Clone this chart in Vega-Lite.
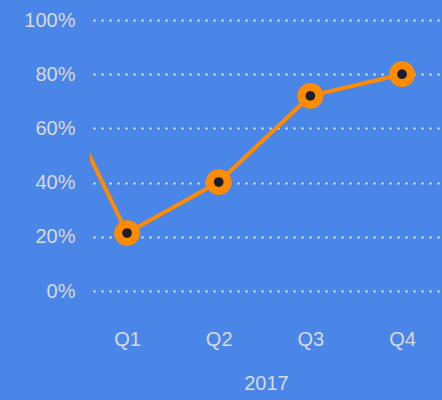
{
  "$schema": "https://vega.github.io/schema/vega-lite/v6.json",
  "width": 352,
  "height": 271,
  "autosize": "none",
  "padding": {"left": 90, "top": 20, "right": 0, "bottom": 109},
  "background": "#4A86E8",
  "config": {
    "view": {"stroke": null},
    "font": "Liberation Sans"
  },
  "data": {
    "values": [
      {"q": 0, "label": "Q4 2016", "value": 0.91},
      {"q": 1, "label": "Q1", "value": 0.214},
      {"q": 2, "label": "Q2", "value": 0.402},
      {"q": 3, "label": "Q3", "value": 0.72},
      {"q": 4, "label": "Q4", "value": 0.80}
    ]
  },
  "encoding": {
    "x": {
      "field": "q",
      "type": "quantitative",
      "scale": {"domain": [0.596, 4.436], "nice": false, "zero": false},
      "axis": {
        "values": [1, 2, 3, 4],
        "labelExpr": "'Q' + datum.value",
        "domain": false,
        "ticks": false,
        "grid": false,
        "labelFontSize": 20,
        "labelColor": "#D9D9D9",
        "labelPadding": 38,
        "title": "2017",
        "titleFontSize": 20,
        "titleFontWeight": "normal",
        "titleColor": "#D9D9D9",
        "titlePadding": 24
      }
    },
    "y": {
      "field": "value",
      "type": "quantitative",
      "scale": {"domain": [0, 1], "nice": false},
      "axis": {
        "values": [0, 0.2, 0.4, 0.6, 0.8, 1],
        "format": ".0%",
        "domain": false,
        "ticks": false,
        "grid": true,
        "gridColor": "#FFFFFF",
        "gridOpacity": 0.9,
        "gridDash": [2, 6],
        "gridDashOffset": -3,
        "gridWidth": 2,
        "labelFontSize": 20,
        "labelColor": "#D9D9D9",
        "labelPadding": 15,
        "title": null
      }
    }
  },
  "layer": [
    {
      "mark": {"type": "line", "color": "#FF8C00", "strokeWidth": 4, "clip": true}
    },
    {
      "transform": [{"filter": "datum.q >= 1"}],
      "mark": {"type": "point", "filled": true, "color": "#FF8C00", "size": 660, "opacity": 1, "clip": true}
    },
    {
      "transform": [{"filter": "datum.q >= 1"}],
      "mark": {"type": "point", "filled": true, "color": "#1C1F2B", "size": 95, "opacity": 1, "clip": true}
    }
  ]
}
